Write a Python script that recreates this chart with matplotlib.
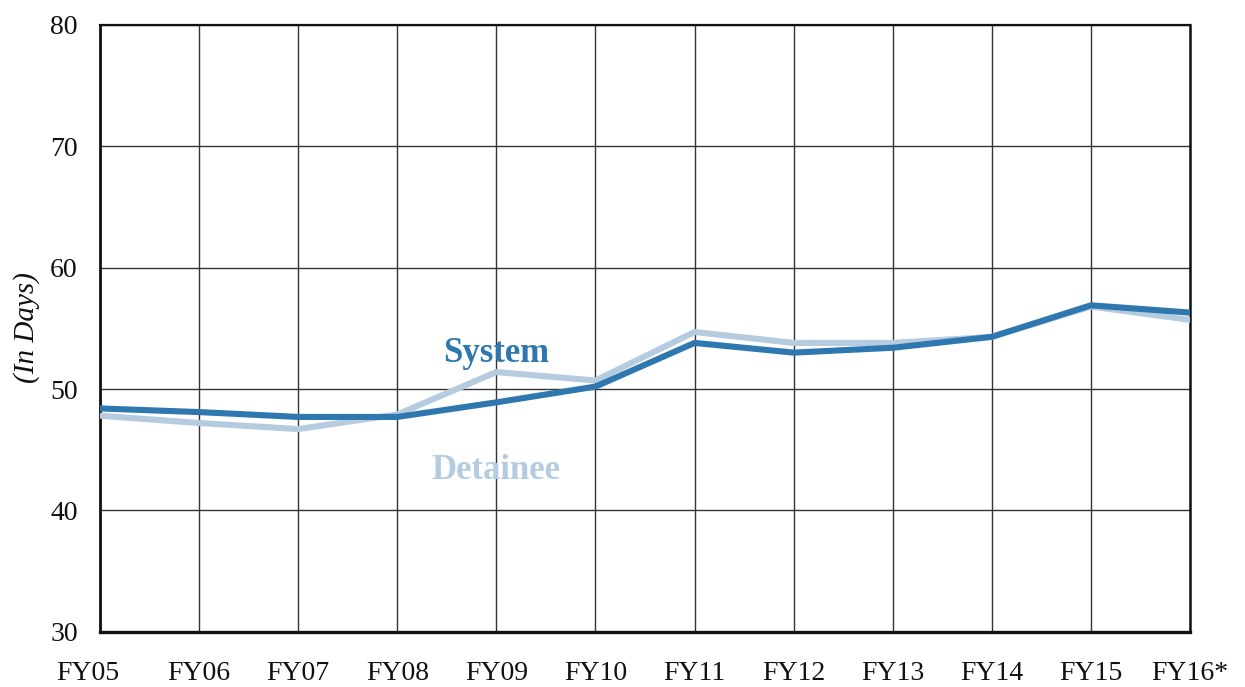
import matplotlib
matplotlib.use("Agg")
import matplotlib.pyplot as plt
import matplotlib.transforms as mtransforms

years = ["FY05", "FY06", "FY07", "FY08", "FY09", "FY10", "FY11", "FY12", "FY13", "FY14", "FY15", "FY16*"]
system = [48.4, 48.1, 47.7, 47.7, 48.9, 50.2, 53.8, 53.0, 53.4, 54.3, 56.9, 56.3]
detainee = [47.8, 47.2, 46.7, 47.9, 51.4, 50.7, 54.7, 53.8, 53.8, 54.3, 56.8, 55.7]
yticks = [30, 40, 50, 60, 70, 80]

plt.rcParams['font.family'] = ['Liberation Serif', 'DejaVu Serif']

fig = plt.figure(figsize=(12.45, 6.87), dpi=100)
ax = fig.add_axes([100/1245, 1-631.7/687, (1190-100)/1245, (631.7-25)/687])

x = list(range(len(years)))
ax.plot(x, detainee, color="#B4CBE0", lw=4.4, solid_capstyle="round", zorder=3)
ax.plot(x, system, color="#2F78AF", lw=4.4, solid_capstyle="round", zorder=4)

ax.set_xlim(0, len(years) - 1)
ax.set_ylim(30, 80)
ax.set_xticks(x)
ax.set_xticklabels(years)
ax.set_yticks(yticks)
ax.tick_params(axis="both", length=0, labelsize=20, colors="#111111")
ax.tick_params(axis="y", pad=16)
ax.tick_params(axis="x", pad=21)
ax.grid(True, color="#333333", lw=1.0, zorder=1)
ax.set_axisbelow(True)
for side, w in [("left", 2.0), ("bottom", 2.4), ("right", 1.8), ("top", 1.6)]:
    ax.spines[side].set_linewidth(w)
    ax.spines[side].set_color("#111111")

# first x label sits slightly left of its gridline in the reference
first = ax.get_xticklabels()[0]
first.set_transform(first.get_transform() + mtransforms.ScaledTranslation(-0.12, 0, fig.dpi_scale_trans))

ax.text(4.0, 52.9, "System", color="#2F78AF", fontsize=25, fontweight="bold", ha="center", va="center")
ax.text(4.0, 43.3, "Detainee", color="#B4CBE0", fontsize=25, fontweight="bold", ha="center", va="center")

fig.text(27/1245, 1-328/687, "(In Days)", rotation=90, fontsize=21, fontstyle="italic",
         ha="center", va="center", color="#111111")

fig.savefig("out.png", dpi=100)
